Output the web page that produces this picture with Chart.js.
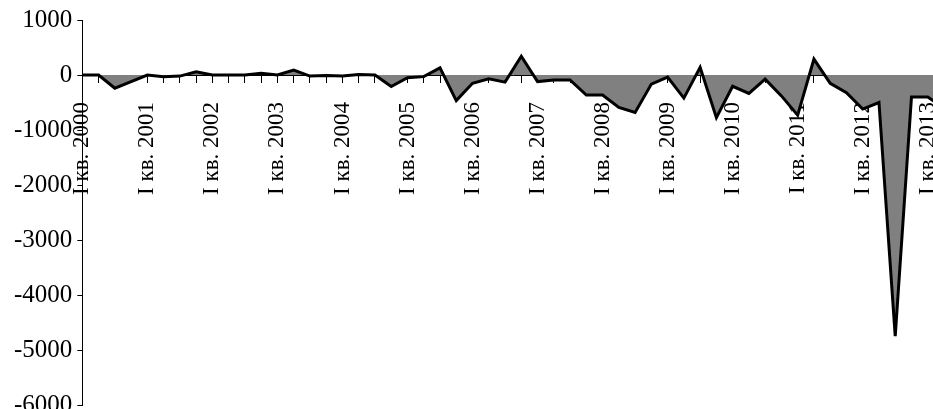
<!DOCTYPE html>
<html>
<head>
<meta charset="utf-8">
<script src="https://cdn.jsdelivr.net/npm/chart.js@4.4.1/dist/chart.umd.min.js"></script>
<style>
  html, body { margin: 0; padding: 0; overflow: hidden; background: #fff; }
  #wrap { position: relative; width: 944px; height: 425px; }
</style>
</head>
<body>
<div id="wrap"><canvas id="chart"></canvas></div>
<script>
// ── Data ──────────────────────────────────────────────────────
const years = [2000, 2001, 2002, 2003, 2004, 2005, 2006, 2007, 2008, 2009, 2010, 2011, 2012, 2013];
const quarterNames = ['I', 'II', 'III', 'IV'];

// quarterly values, I кв. 2000 … II кв. 2013
const values = [
  0, 0, -240, -120,        // 2000
  0, -30, -20, 60,         // 2001
  0, 0, 0, 30,             // 2002
  0, 90, -20, -10,         // 2003
  -20, 10, 0, -210,        // 2004
  -50, -30, 130, -465,     // 2005
  -150, -70, -130, 340,    // 2006
  -120, -90, -90, -365,    // 2007
  -365, -590, -680, -165,  // 2008
  -40, -420, 140, -775,    // 2009
  -205, -335, -75, -380,   // 2010
  -730, 290, -150, -320,   // 2011
  -620, -500, -4750, -400, // 2012
  -400, -600,              // 2013
];

const yMin = -6000;
const yMax = 1000;
const yStep = 1000;

// category labels like "I кв. 2000"
const labels = [];
years.forEach((y) => quarterNames.forEach((q) => labels.push(`${q} кв. ${y}`)));
labels.length = values.length;

// ── Chart ─────────────────────────────────────────────────────
const FONT = "'Liberation Serif', 'Times New Roman', serif";
Chart.defaults.color = '#000';
Chart.defaults.font.family = FONT;
Chart.defaults.font.size = 23;

new Chart(document.getElementById('chart').getContext('2d'), {
  type: 'line',
  data: {
    labels,
    datasets: [
      {
        data: values,
        borderColor: '#000',
        borderWidth: 3,
        backgroundColor: '#808080',
        fill: 'origin',
        pointRadius: 0,
        tension: 0,
      },
    ],
  },
  options: {
    responsive: true,
    maintainAspectRatio: false,
    animation: false,
    layout: { padding: { left: 9, top: 12, right: 0, bottom: 0 } },
    plugins: {
      legend: { display: false },
      tooltip: { enabled: false },
    },
    scales: {
      x: {
        position: { y: 0 },
        z: 1,
        offset: false,
        border: { color: '#000', width: 1 },
        grid: { drawOnChartArea: false, drawTicks: true, tickLength: 7, color: '#000' },
        ticks: {
          autoSkip: false,
          minRotation: 90,
          maxRotation: 90,
          padding: 20,
          callback(value, index) {
            return index % 4 === 0 ? labels[index] : '';
          },
        },
        // labels hang over the plot, so the axis takes no room of its own
        afterFit(scale) {
          scale.height = 0;
          scale.paddingLeft = 0;
          scale.paddingRight = 0;
        },
      },
      y: {
        min: yMin,
        max: yMax,
        border: { color: '#000', width: 1 },
        grid: { drawOnChartArea: false, drawTicks: true, tickLength: 5, color: '#000' },
        ticks: {
          stepSize: yStep,
          padding: 5,
          font: { size: 25 },
          callback: (v) => String(v),
        },
      },
    },
  },
});
</script>
</body>
</html>
